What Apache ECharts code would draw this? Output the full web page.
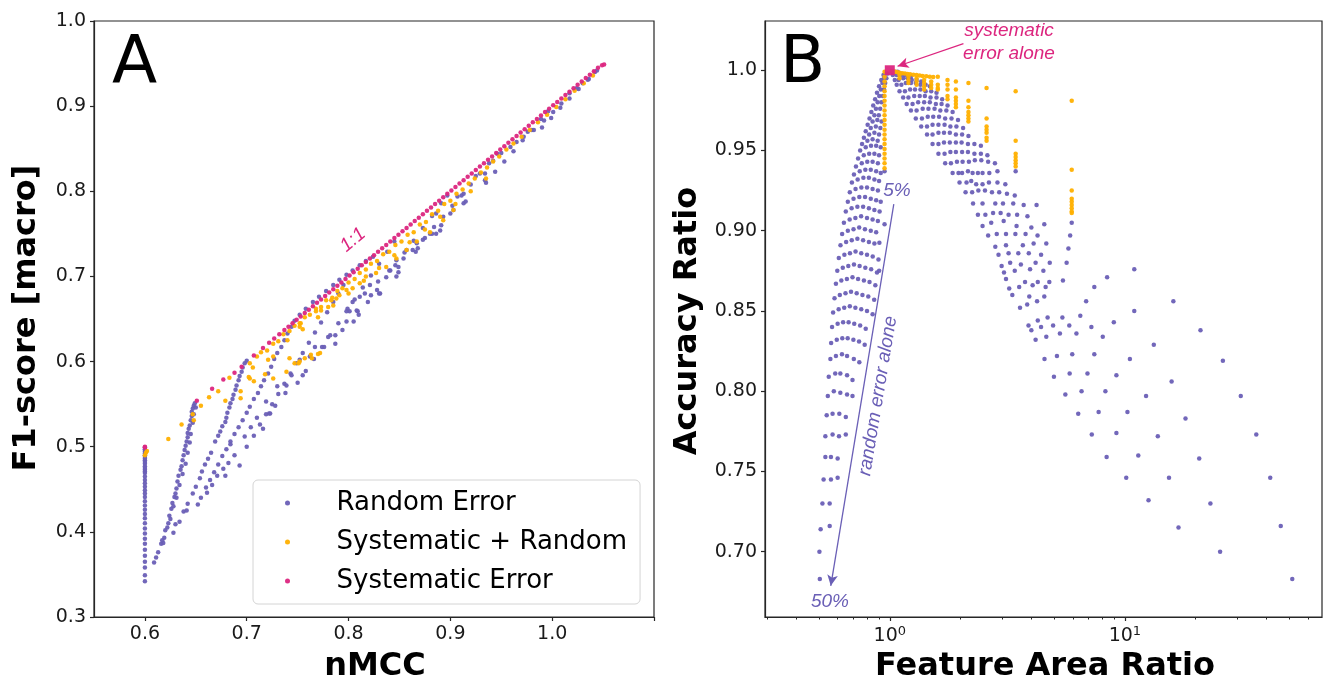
<!DOCTYPE html>
<html>
<head>
<meta charset="utf-8">
<title>F1-score vs nMCC and Accuracy vs Feature Area Ratio</title>
<script src="https://cdn.jsdelivr.net/npm/echarts@6.0.0/dist/echarts.min.js"></script>
<style>
html, body { margin: 0; padding: 0; background: #ffffff; }
#chart { width: 1324px; height: 690px; }
</style>
</head>
<body>
<div id="chart"></div>
<script>
// ---------- Panel A: macro F1-score against nMCC ----------
const aRandom = [
  // x = 0.6 column
  [0.600,0.342],[0.600,0.349],[0.600,0.358],[0.600,0.365],[0.600,0.372],[0.600,0.379],[0.600,0.386],[0.600,0.392],
  [0.600,0.398],[0.600,0.404],[0.600,0.410],[0.600,0.416],[0.600,0.421],[0.600,0.426],[0.600,0.431],[0.600,0.436],
  [0.600,0.441],[0.600,0.445],[0.600,0.449],[0.600,0.453],[0.600,0.457],[0.600,0.461],[0.600,0.465],[0.600,0.469],
  [0.600,0.473],[0.600,0.477],[0.600,0.480],[0.600,0.484],[0.600,0.488],[0.600,0.492],[0.600,0.496],[0.600,0.499],
  [0.600,0.471],[0.600,0.475],[0.600,0.482],[0.600,0.486],[0.600,0.490],[0.600,0.494],[0.600,0.497],
  // streak ending at 0.65
  [0.609,0.364],[0.613,0.376],[0.616,0.386],[0.618,0.387],[0.619,0.393],[0.620,0.402],[0.623,0.410],[0.624,0.419],
  [0.626,0.427],[0.627,0.434],[0.629,0.441],[0.630,0.445],[0.631,0.451],[0.632,0.459],[0.633,0.466],[0.635,0.473],
  [0.636,0.477],[0.637,0.484],[0.638,0.490],[0.639,0.496],[0.640,0.501],[0.641,0.506],[0.642,0.511],[0.642,0.516],
  [0.643,0.521],[0.644,0.525],[0.645,0.531],[0.646,0.536],[0.646,0.541],[0.647,0.545],[0.648,0.548],[0.649,0.551],
  [0.611,0.370],[0.617,0.390],[0.622,0.405],[0.625,0.415],[0.628,0.430],[0.631,0.440],[0.634,0.455],[0.637,0.468],
  [0.640,0.480],[0.642,0.493],[0.644,0.505],[0.645,0.515],[0.647,0.528],[0.648,0.538],[0.650,0.546],
  // streak ending at 0.70
  [0.628,0.399],[0.630,0.409],[0.634,0.412],[0.638,0.424],[0.641,0.425],[0.642,0.433],[0.647,0.445],[0.650,0.453],
  [0.654,0.463],[0.656,0.471],[0.659,0.479],[0.662,0.486],[0.665,0.493],[0.669,0.506],[0.672,0.513],[0.674,0.518],
  [0.676,0.524],[0.679,0.529],[0.680,0.534],[0.681,0.540],[0.683,0.546],[0.684,0.551],[0.686,0.556],[0.687,0.561],
  [0.689,0.567],[0.690,0.572],[0.692,0.578],[0.693,0.583],[0.695,0.588],[0.696,0.593],[0.698,0.598],[0.700,0.601],
  // streak ending at 0.75
  [0.655,0.440],[0.660,0.452],[0.664,0.461],[0.668,0.470],[0.672,0.479],[0.676,0.489],[0.680,0.497],[0.684,0.506],
  [0.688,0.515],[0.692,0.523],[0.696,0.531],[0.700,0.540],[0.703,0.547],[0.707,0.556],[0.711,0.563],[0.714,0.571],
  [0.717,0.578],[0.721,0.586],[0.724,0.594],[0.727,0.603],[0.730,0.610],[0.734,0.617],[0.737,0.625],[0.740,0.633],
  [0.744,0.641],[0.747,0.648],[0.752,0.655],[0.758,0.662],[0.765,0.670],[0.771,0.676],[0.778,0.683],[0.785,0.690],
  [0.791,0.696],[0.798,0.702],[0.804,0.707],[0.811,0.713],[0.817,0.718],[0.824,0.723],
  // streak ending at 0.80
  [0.700,0.500],[0.707,0.513],[0.713,0.526],[0.719,0.538],[0.725,0.550],[0.731,0.562],[0.737,0.574],[0.743,0.586],
  [0.749,0.598],[0.755,0.610],[0.761,0.622],[0.767,0.634],[0.773,0.646],[0.779,0.658],[0.785,0.670],[0.790,0.680],
  [0.795,0.690],
  // lower spread between 0.66 and 0.74
  [0.652,0.432],[0.661,0.446],[0.666,0.455],[0.671,0.466],[0.677,0.474],[0.682,0.481],[0.688,0.490],[0.693,0.478],
  [0.679,0.466],[0.684,0.503],[0.698,0.512],[0.704,0.523],[0.710,0.534],[0.716,0.521],[0.722,0.539],[0.728,0.548],
  // spread below the 1:1 line, x 0.72 to 0.91
  [0.719,0.553],[0.723,0.539],[0.730,0.571],[0.738,0.563],[0.739,0.572],[0.744,0.584],[0.755,0.584],[0.752,0.602],
  [0.762,0.606],[0.767,0.617],[0.776,0.617],[0.780,0.629],[0.787,0.621],[0.787,0.631],[0.794,0.637],[0.798,0.647],
  [0.801,0.659],[0.808,0.660],[0.804,0.670],[0.811,0.676],[0.816,0.680],[0.821,0.690],[0.831,0.680],[0.829,0.694],
  [0.840,0.707],[0.849,0.705],[0.847,0.719],[0.854,0.721],[0.857,0.731],[0.863,0.731],[0.867,0.739],[0.873,0.743],
  [0.880,0.750],[0.886,0.750],[0.891,0.760],[0.900,0.774],[0.903,0.778],[0.913,0.786],
  [0.805,0.647],[0.809,0.659],[0.799,0.662],[0.822,0.678],[0.830,0.680],[0.841,0.707],[0.847,0.700],[0.849,0.711],
  [0.866,0.729],[0.868,0.733],[0.882,0.750],[0.886,0.774],[0.890,0.754],[0.907,0.794],[0.913,0.797],[0.915,0.788],
  [0.934,0.813],[0.934,0.821],
  // streaks ending at 0.85 to 1.05
  [0.750,0.575],[0.758,0.589],[0.766,0.603],[0.774,0.617],[0.782,0.631],[0.790,0.645],[0.798,0.659],[0.806,0.673],
  [0.814,0.687],[0.822,0.701],[0.830,0.715],[0.838,0.729],[0.845,0.741],
  [0.810,0.655],[0.819,0.670],[0.828,0.684],[0.837,0.699],[0.846,0.713],[0.855,0.728],[0.864,0.742],[0.873,0.757],
  [0.882,0.771],[0.891,0.786],[0.897,0.795],
  [0.875,0.745],[0.884,0.758],[0.893,0.770],[0.902,0.783],[0.911,0.795],[0.920,0.808],[0.929,0.821],[0.938,0.833],
  [0.946,0.844],
  [0.935,0.810],[0.944,0.823],[0.953,0.835],[0.962,0.847],[0.971,0.860],[0.980,0.872],[0.989,0.885],[0.996,0.894],
  [0.990,0.875],[0.999,0.886],[1.008,0.898],[1.017,0.909],[1.026,0.920],[1.035,0.931],[1.044,0.942],
  // close under the 1:1 line
  [0.959,0.852],[0.965,0.858],[0.972,0.864],[0.976,0.870],[0.982,0.872],[0.992,0.883],[1.001,0.893],[1.009,0.903],
  [1.017,0.915],[1.024,0.921],[1.030,0.927],[1.036,0.932],[1.042,0.940],[0.925,0.818],[0.942,0.836],[0.950,0.845]
];
const aMixed = [
  [0.600,0.490],[0.601,0.493],[0.602,0.495],[0.623,0.509],[0.636,0.526],[0.647,0.538],[0.648,0.531],[0.655,0.548],
  [0.663,0.558],[0.672,0.565],[0.679,0.554],[0.683,0.581],[0.694,0.565],[0.694,0.557],[0.702,0.582],[0.706,0.593],
  [0.707,0.577],[0.718,0.585],[0.726,0.580],[0.739,0.588],[0.751,0.598],[0.764,0.604],[0.772,0.610],
  [0.703,0.580],[0.721,0.602],[0.726,0.606],[0.742,0.604],[0.747,0.598],[0.752,0.600],[0.757,0.604],[0.763,0.608],
  [0.770,0.609],[0.752,0.641],[0.753,0.645],[0.768,0.659],[0.773,0.660],[0.780,0.664],[0.783,0.672],[0.788,0.674],
  [0.791,0.678],[0.798,0.684],[0.804,0.686],[0.811,0.692],[0.817,0.700],[0.827,0.704],[0.837,0.711],[0.847,0.721],
  [0.857,0.731],[0.867,0.741],[0.880,0.752],[0.893,0.766],[0.903,0.778],
  [0.703,0.598],[0.710,0.606],[0.714,0.611],[0.720,0.613],[0.726,0.621],[0.731,0.624],[0.736,0.632],[0.742,0.636],
  [0.747,0.642],[0.752,0.645],[0.757,0.652],[0.762,0.655],[0.768,0.662],[0.773,0.664],[0.778,0.672],[0.784,0.675],
  [0.789,0.683],[0.794,0.686],[0.800,0.693],[0.806,0.697],[0.811,0.704],[0.817,0.708],[0.822,0.715],[0.828,0.718],
  [0.834,0.726],[0.840,0.729],[0.846,0.737],[0.852,0.741],[0.858,0.749],[0.864,0.752],[0.870,0.761],[0.876,0.764],
  [0.882,0.773],[0.888,0.777],[0.894,0.785],[0.900,0.789],[0.906,0.797],[0.912,0.802],[0.918,0.809],[0.924,0.815],
  [0.930,0.822],[0.936,0.828],[0.942,0.835],[0.948,0.841],[0.955,0.849],[0.962,0.856],[0.970,0.864],[0.978,0.872],
  [0.986,0.881],[0.995,0.890],[1.004,0.899],[1.013,0.908],[1.022,0.918],[1.031,0.927],[1.040,0.936],
  [0.740,0.625],[0.755,0.638],[0.770,0.652],[0.785,0.666],[0.800,0.680],[0.815,0.695],[0.830,0.710],[0.845,0.725],
  [0.860,0.740],[0.875,0.755],[0.890,0.770],[0.905,0.785],[0.920,0.800],[0.935,0.815]
];
const aSystematic = [
  [0.600,0.500],[0.600,0.499],[0.651,0.554],[0.666,0.568],[0.677,0.579],[0.688,0.587],[0.695,0.594],[0.707,0.607],
  [0.716,0.616],[0.722,0.622],[0.727,0.627],[0.732,0.632],[0.737,0.637],[0.741,0.641],[0.745,0.645],[0.749,0.649],
  [0.753,0.653],[0.757,0.657],[0.761,0.661],[0.765,0.665],[0.769,0.669],[0.773,0.673],[0.777,0.677],[0.781,0.681],
  [0.785,0.685],[0.789,0.689],[0.793,0.693],[0.797,0.697],[0.801,0.701],[0.805,0.705],[0.809,0.709],[0.813,0.713],
  [0.817,0.717],[0.821,0.721],[0.825,0.725],[0.829,0.729],[0.833,0.733],[0.837,0.737],[0.841,0.741],[0.845,0.745],
  [0.849,0.749],[0.853,0.753],[0.857,0.757],[0.861,0.761],[0.865,0.765],[0.869,0.769],[0.873,0.773],[0.877,0.777],
  [0.881,0.781],[0.885,0.785],[0.889,0.789],[0.893,0.793],[0.897,0.797],[0.901,0.801],[0.905,0.805],[0.909,0.809],
  [0.913,0.813],[0.917,0.817],[0.921,0.821],[0.925,0.825],[0.929,0.829],[0.933,0.833],[0.937,0.837],[0.941,0.841],
  [0.945,0.845],[0.949,0.849],[0.953,0.853],[0.957,0.857],[0.961,0.861],[0.965,0.865],[0.969,0.869],[0.973,0.873],
  [0.977,0.877],[0.981,0.881],[0.985,0.885],[0.989,0.889],[0.993,0.893],[0.997,0.897],[1.001,0.901],[1.005,0.905],
  [1.009,0.909],[1.013,0.913],[1.017,0.917],[1.021,0.921],[1.025,0.925],[1.029,0.929],[1.033,0.933],[1.037,0.937],
  [1.041,0.941],[1.045,0.945],[1.049,0.948],[1.051,0.949]
];

// ---------- Panel B: accuracy ratio against feature area ratio ----------
// outer descending arcs (ratio > 1)
const bRandomRight = [
  [51.5,0.683],[46.0,0.716],[41.5,0.746],[36.2,0.773],[31.1,0.797],[26.1,0.819],[20.96,0.838],[16.07,0.856],[10.96,0.876],
  [25.4,0.700],[23.1,0.730],[20.7,0.758],[18.1,0.783],[15.8,0.806],[16.9,0.715],[15.4,0.746],[13.8,0.772],[12.3,0.797],
  [10.5,0.820],[12.6,0.732],[11.4,0.760],[10.25,0.787],[9.20,0.810],[10.13,0.746],[9.20,0.774],[8.26,0.800],[7.41,0.823],
  [8.36,0.759],[7.73,0.787],[6.93,0.811],[5.97,0.823],[7.23,0.773],[6.54,0.800],[5.82,0.811],[5.14,0.822],[6.33,0.786],
  [5.58,0.798],[4.99,0.809],[4.55,0.820],
  [4.17,0.832],[4.63,0.834],[5.29,0.836],[6.22,0.836],[8.05,0.834],[13.27,0.829],
  [4.00,0.838],[4.40,0.840],[4.95,0.841],[5.80,0.841],[7.20,0.840],
  [3.89,0.841],[4.26,0.844],[4.69,0.846],[5.42,0.846],[6.46,0.847],[8.97,0.843],[10.96,0.850],
  [3.58,0.852],[3.84,0.854],[4.23,0.856],[6.84,0.856],
  [3.32,0.860],[3.92,0.859],[4.54,0.859],
  [3.22,0.864],[3.55,0.865],[4.05,0.866],[4.60,0.865],[7.41,0.865],
  [3.12,0.870],[3.76,0.868],[4.26,0.868],[4.77,0.868],[5.45,0.869],[8.40,0.871],
  [3.06,0.874],[3.40,0.875],[3.95,0.876],[4.50,0.875],
  [2.99,0.878],[3.25,0.880],[3.61,0.879],[4.17,0.880],[4.79,0.880],[5.65,0.880],
  [2.90,0.885],[3.20,0.886],[3.52,0.886],[3.90,0.886],[4.40,0.885],
  [2.81,0.890],[3.12,0.891],[3.68,0.891],[4.09,0.892],[4.63,0.892],[5.75,0.889],
  [2.62,0.897],[2.85,0.898],[3.12,0.898],[3.42,0.898],[3.78,0.898],[4.25,0.897],[5.85,0.897],
  [2.48,0.903],[2.70,0.905],[3.05,0.906],[3.46,0.903],[4.00,0.902],[4.54,0.904],[5.94,0.905],
  [2.37,0.910],[2.55,0.910],[2.75,0.911],[2.96,0.911],[3.20,0.910],[3.48,0.910],[3.85,0.909],
  [2.26,0.917],[2.48,0.917],[2.81,0.917],[3.03,0.917],[3.35,0.917],[3.71,0.916],[4.21,0.916],
  [2.10,0.924],[2.24,0.924],[2.38,0.925],[2.54,0.925],[2.72,0.924],[2.92,0.924],[3.15,0.923],[3.40,0.922],
  [1.98,0.930],[2.12,0.930],[2.22,0.931],[2.33,0.929],[2.48,0.929],[2.64,0.930],[2.87,0.930],[3.10,0.929],
  [1.85,0.936],[1.96,0.936],[2.03,0.936],[2.15,0.937],[2.25,0.936],[2.37,0.936],[2.48,0.936],[2.65,0.936],[2.87,0.937],[3.43,0.937],
  [1.72,0.942],[1.82,0.942],[1.93,0.943],[2.04,0.943],[2.17,0.943],[2.30,0.944],[2.45,0.944],[2.62,0.943],[2.80,0.942],
  [1.61,0.948],[1.71,0.948],[1.81,0.949],[1.91,0.949],[2.03,0.949],[2.15,0.949],[2.29,0.948],[2.44,0.948],[2.60,0.947],
  [1.52,0.954],[1.61,0.954],[1.70,0.955],[1.80,0.955],[1.91,0.955],[2.02,0.955],[2.15,0.954],[2.29,0.954],[2.44,0.953],
  [1.44,0.960],[1.52,0.960],[1.61,0.961],[1.70,0.961],[1.80,0.961],[1.91,0.960],[2.03,0.960],[2.16,0.959],
  [1.36,0.965],[1.44,0.965],[1.52,0.966],[1.61,0.966],[1.71,0.966],[1.81,0.965],[1.92,0.965],[2.05,0.964],
  [1.29,0.970],[1.37,0.970],[1.45,0.971],[1.53,0.971],[1.62,0.971],[1.72,0.970],[1.83,0.970],[1.95,0.969],
  [1.23,0.975],[1.30,0.975],[1.38,0.976],[1.46,0.976],[1.55,0.976],[1.64,0.975],[1.74,0.975],[1.85,0.974],
  [1.18,0.979],[1.25,0.979],[1.32,0.980],[1.40,0.980],[1.48,0.980],[1.57,0.979],[1.66,0.979],[1.76,0.978],
  [1.14,0.983],[1.20,0.983],[1.27,0.984],[1.34,0.984],[1.41,0.984],[1.49,0.983],[1.58,0.983],[1.67,0.982],
  [1.10,0.987],[1.16,0.987],[1.22,0.988],[1.28,0.988],[1.35,0.988],[1.42,0.987],[1.50,0.987],[1.58,0.986],
  [1.07,0.991],[1.12,0.991],[1.17,0.992],[1.23,0.992],[1.29,0.992],[1.35,0.991],[1.42,0.991],[1.48,0.990],
  [1.05,0.994],[1.09,0.994],[1.14,0.995],[1.19,0.995],[1.24,0.994],[1.30,0.994],[1.36,0.993],
  [1.03,0.997],[1.07,0.997],[1.11,0.997],[1.15,0.997],[1.19,0.996],[1.23,0.996],
  [1.02,0.999],[1.05,0.999],[1.08,0.999],[1.11,0.998]
];
// arch of ratios below 1, plus the random-only points along the arrow
const bRandomLeft = [
  [0.504,0.683],[0.502,0.700],[0.508,0.714],[0.555,0.716],[0.517,0.730],[0.555,0.730],[0.523,0.745],[0.562,0.745],
  [0.600,0.746],[0.532,0.759],[0.562,0.759],[0.600,0.758],[0.532,0.772],[0.571,0.773],[0.608,0.772],[0.650,0.773],
  [0.539,0.785],[0.571,0.786],[0.610,0.786],[0.650,0.784],[0.545,0.797],[0.578,0.800],[0.616,0.799],[0.658,0.798],
  [0.694,0.797],[0.550,0.809],[0.586,0.811],[0.616,0.811],[0.658,0.810],[0.694,0.807],[0.559,0.820],[0.590,0.822],
  [0.626,0.823],[0.658,0.822],[0.703,0.820],[0.742,0.818],
  [0.563,0.830],[0.595,0.832],[0.628,0.833],[0.662,0.833],[0.700,0.832],[0.740,0.831],[0.782,0.829],
  [0.568,0.840],[0.600,0.842],[0.633,0.843],[0.668,0.843],[0.706,0.842],[0.748,0.841],[0.790,0.839],
  [0.574,0.849],[0.606,0.851],[0.640,0.852],[0.676,0.853],[0.714,0.852],[0.756,0.851],[0.800,0.850],[0.845,0.848],
  [0.582,0.858],[0.613,0.860],[0.648,0.861],[0.684,0.862],[0.723,0.861],[0.765,0.860],[0.810,0.859],[0.858,0.857],
  [0.590,0.867],[0.622,0.869],[0.657,0.870],[0.694,0.871],[0.733,0.870],[0.776,0.869],[0.820,0.868],[0.868,0.866],
  [0.598,0.875],[0.631,0.877],[0.666,0.878],[0.704,0.879],[0.744,0.878],[0.787,0.877],[0.833,0.876],[0.882,0.874],
  [0.607,0.883],[0.641,0.885],[0.677,0.886],[0.715,0.887],[0.756,0.886],[0.800,0.885],[0.846,0.884],[0.895,0.882],
  [0.617,0.891],[0.652,0.893],[0.689,0.894],[0.728,0.895],[0.770,0.894],[0.815,0.893],[0.860,0.892],[0.903,0.8925],
  [0.627,0.898],[0.663,0.900],[0.701,0.901],[0.741,0.902],[0.784,0.901],[0.830,0.900],[0.875,0.899],
  [0.638,0.905],[0.675,0.907],[0.714,0.908],[0.755,0.909],[0.800,0.908],[0.845,0.907],[0.890,0.906],
  [0.650,0.912],[0.688,0.914],[0.728,0.915],[0.770,0.915],[0.815,0.914],[0.860,0.913],[0.905,0.912],
  [0.663,0.918],[0.701,0.920],[0.742,0.921],[0.785,0.921],[0.830,0.920],[0.875,0.919],[0.915,0.918],
  [0.676,0.924],[0.715,0.926],[0.757,0.927],[0.800,0.927],[0.845,0.926],[0.890,0.925],
  [0.690,0.930],[0.730,0.932],[0.772,0.933],[0.815,0.933],[0.860,0.932],[0.900,0.931],
  [0.704,0.935],[0.745,0.937],[0.787,0.938],[0.830,0.938],[0.875,0.937],[0.915,0.936],
  [0.718,0.940],[0.760,0.942],[0.802,0.943],[0.845,0.943],[0.890,0.942],
  [0.733,0.945],[0.775,0.947],[0.817,0.948],[0.860,0.948],[0.900,0.947],
  [0.748,0.950],[0.790,0.952],[0.832,0.953],[0.875,0.953],[0.915,0.952],
  [0.762,0.954],[0.803,0.956],[0.845,0.957],[0.888,0.956],
  [0.776,0.958],[0.817,0.960],[0.860,0.961],[0.900,0.960],
  [0.790,0.962],[0.830,0.964],[0.872,0.965],[0.912,0.964],
  [0.805,0.966],[0.845,0.968],[0.885,0.969],[0.922,0.968],
  [0.820,0.970],[0.860,0.972],[0.898,0.972],
  [0.835,0.974],[0.873,0.976],[0.910,0.976],
  [0.850,0.978],[0.888,0.980],[0.922,0.980],
  [0.866,0.982],[0.902,0.984],[0.934,0.984],
  [0.882,0.986],[0.916,0.988],[0.945,0.988],
  [0.900,0.990],[0.930,0.992],[0.956,0.992],
  [0.920,0.994],[0.945,0.995],[0.967,0.995],
  [0.940,0.997],[0.960,0.998],[0.978,0.998],
  [0.950,0.937],[0.950,0.904],[0.901,0.875]
];
const bMixed = [
  [0.950,0.999],[0.950,0.996],[0.950,0.993],[0.950,0.990],[0.950,0.987],[0.950,0.984],[0.950,0.981],[0.950,0.978],
  [0.950,0.975],[0.950,0.972],[0.950,0.969],[0.950,0.966],[0.950,0.963],[0.950,0.960],[0.950,0.957],[0.950,0.954],
  [0.950,0.951],[0.950,0.948],[0.950,0.945],[0.950,0.942],[0.950,0.939],
  [1.02,0.9995],[1.04,0.9993],[1.06,0.999],[1.08,0.9988],[1.10,0.9985],[1.13,0.9982],[1.16,0.998],[1.19,0.9977],
  [1.22,0.9975],[1.26,0.9972],[1.30,0.997],[1.34,0.9967],[1.38,0.9965],[1.43,0.9962],[1.48,0.996],[1.53,0.9958],
  [1.10,0.997],[1.10,0.995],[1.20,0.996],[1.20,0.994],[1.20,0.992],[1.30,0.995],[1.30,0.993],[1.30,0.991],
  [1.40,0.994],[1.40,0.992],[1.40,0.990],[1.40,0.988],[1.50,0.993],[1.50,0.991],[1.50,0.989],
  [1.60,0.996],[1.60,0.991],[1.60,0.989],[1.60,0.988],[1.76,0.994],[1.76,0.991],[1.76,0.988],[1.76,0.984],[1.76,0.982],
  [1.91,0.993],[1.91,0.988],[1.91,0.983],[1.91,0.981],[1.91,0.979],[1.91,0.977],[2.16,0.992],[2.16,0.981],[2.16,0.977],
  [2.16,0.974],[2.16,0.972],[2.16,0.970],[2.16,0.968],[2.58,0.989],[2.58,0.970],[2.58,0.965],[2.58,0.963],[2.58,0.961],
  [2.58,0.958],[2.58,0.956],[3.43,0.987],[3.43,0.956],[3.43,0.948],[3.43,0.946],[3.43,0.944],[3.43,0.942],[3.43,0.940],
  [5.94,0.981],[5.94,0.938],[5.94,0.925],[5.94,0.920],[5.94,0.918],[5.94,0.916],[5.94,0.914],[5.94,0.912],[5.94,0.911]
];
const bSystematic = [[1.0, 1.0]];

// ---------- axis ticks ----------
const aXTicks = [0.6, 0.7, 0.8, 0.9, 1.0, 1.1];
const aXLabels = [0.6, 0.7, 0.8, 0.9, 1.0];
const aYTicks = [0.3, 0.4, 0.5, 0.6, 0.7, 0.8, 0.9, 1.0];
const bXTicks = [1, 10];
const bXMinorTicks = [0.3, 0.4, 0.5, 0.6, 0.7, 0.8, 0.9, 2, 3, 4, 5, 6, 7, 8, 9, 20, 30, 40, 50, 60];
const bYTicks = [0.70, 0.75, 0.80, 0.85, 0.90, 0.95, 1.0];
const seriesNames = ['Random Error', 'Systematic + Random', 'Systematic Error'];

const FONT = 'DejaVu Sans';
const INK = '#1a1a1a';
const SPINE = '#262626';
const C_RANDOM = '#6a5fb6';
const C_MIXED = '#ffb000';
const C_SYS = '#dc267f';

function axisBase(gridIndex, type, min, max, ticks, labels, fmt) {
  return {
    type: type, gridIndex: gridIndex, min: min, max: max,
    axisLine: { show: true, onZero: false, lineStyle: { color: SPINE, width: 1.2 } },
    axisTick: { show: true, inside: false, length: 4, customValues: ticks, lineStyle: { color: SPINE, width: 1.2 } },
    axisLabel: { show: true, customValues: labels, formatter: fmt, fontFamily: FONT, fontSize: 19, color: INK, margin: 8 },
    splitLine: { show: false },
    minorTick: { show: false }
  };
}

const supDigits = v => (v === 1 ? '10{s|0}' : '10{s|1}');
const bXAxis = axisBase(1, 'log', 0.2946, 68.9, bXTicks, bXTicks, supDigits);
bXAxis.logBase = 10;
bXAxis.axisLabel.rich = { s: { fontFamily: FONT, fontSize: 13, color: INK, verticalAlign: 'top', padding: [0, 0, 10, 0] } };
const bXMinorAxis = {
  type: 'log', logBase: 10, gridIndex: 1, min: 0.2946, max: 68.9, position: 'bottom',
  axisLine: { show: false }, axisLabel: { show: false }, splitLine: { show: false },
  axisTick: { show: true, length: 2.5, customValues: bXMinorTicks, lineStyle: { color: SPINE, width: 1 } }
};

function scatter(name, data, xi, color, size, z, symbol) {
  return {
    name: name, type: 'scatter', xAxisIndex: xi, yAxisIndex: xi === 2 ? 1 : xi,
    data: data, symbol: symbol || 'circle', symbolSize: size, z: z,
    itemStyle: { color: color, opacity: 0.95 },
    emphasis: { disabled: true }, animation: false, silent: true
  };
}

const bRL = scatter(seriesNames[0], bRandomLeft, 2, C_RANDOM, 4.5, 2);
const bRR = scatter(seriesNames[0], bRandomRight, 2, C_RANDOM, 4.5, 2);
const bM = scatter(seriesNames[1], bMixed, 2, C_MIXED, 4.5, 3);
const bS = scatter(seriesNames[2], bSystematic, 2, C_SYS, 10, 4, 'rect');
bS.markLine = {
  silent: true, animation: false, symbol: ['none', 'arrow'], symbolSize: [8, 11],
  label: { show: false }, lineStyle: { color: C_SYS, width: 1.3, type: 'solid' },
  data: [[{ coord: [2.057, 1.0166] }, { coord: [1.079, 1.0025] }]]
};
bRL.markLine = {
  silent: true, animation: false, symbol: ['none', 'arrow'], symbolSize: [8, 11],
  label: { show: false }, lineStyle: { color: C_RANDOM, width: 1.3, type: 'solid' },
  data: [[{ coord: [1.04, 0.9166] }, { coord: [0.561, 0.6787] }]]
};

const option = {
  backgroundColor: '#ffffff',
  animation: false,
  grid: [
    { left: 94, top: 21, width: 560, height: 596, show: true, borderColor: SPINE, borderWidth: 1.2 },
    { left: 765, top: 21, width: 557, height: 596, show: true, borderColor: SPINE, borderWidth: 1.2 }
  ],
  xAxis: [
    axisBase(0, 'value', 0.55, 1.1, aXTicks, aXLabels, v => v.toFixed(1)),
    bXAxis,
    bXMinorAxis
  ],
  yAxis: [
    axisBase(0, 'value', 0.3, 1.0, aYTicks, aYTicks, v => v.toFixed(1)),
    axisBase(1, 'value', 0.6593, 1.0307, bYTicks, bYTicks, v => (v >= 0.999 ? '1.0' : v.toFixed(2)))
  ],
  legend: {
    data: seriesNames, orient: 'vertical', left: 253, top: 480,
    icon: 'circle', itemWidth: 10, itemHeight: 5, itemGap: 9,
    padding: [8, 13, 8, 32],
    backgroundColor: 'rgba(255,255,255,0.85)', borderColor: '#d4d4d4', borderWidth: 1, borderRadius: 5,
    selectedMode: false,
    textStyle: { fontFamily: FONT, fontSize: 26, color: '#000', lineHeight: 30, padding: [0, 0, 0, 39] }
  },
  series: [
    scatter(seriesNames[0], aRandom, 0, C_RANDOM, 4.5, 2),
    scatter(seriesNames[1], aMixed, 0, C_MIXED, 4.5, 3),
    scatter(seriesNames[2], aSystematic, 0, C_SYS, 4.5, 4),
    bRL, bRR, bM, bS
  ],
  graphic: [
    { type: 'text', x: 112, y: 65, style: { text: 'A', fontFamily: FONT, fontSize: 66, fill: '#000', align: 'left', verticalAlign: 'middle' } },
    { type: 'text', x: 780, y: 65, style: { text: 'B', fontFamily: FONT, fontSize: 66, fill: '#000', align: 'left', verticalAlign: 'middle' } },
    { type: 'text', x: 27, y: 318, rotation: Math.PI / 2, style: { text: 'F1-score [macro]', fontFamily: FONT, fontWeight: 'bold', fontSize: 32, fill: '#000', align: 'center', verticalAlign: 'middle' } },
    { type: 'text', x: 375, y: 667, style: { text: 'nMCC', fontFamily: FONT, fontWeight: 'bold', fontSize: 32, fill: '#000', align: 'center', verticalAlign: 'middle' } },
    { type: 'text', x: 688, y: 321, rotation: Math.PI / 2, style: { text: 'Accuracy Ratio', fontFamily: FONT, fontWeight: 'bold', fontSize: 32, fill: '#000', align: 'center', verticalAlign: 'middle' } },
    { type: 'text', x: 1045, y: 667, style: { text: 'Feature Area Ratio', fontFamily: FONT, fontWeight: 'bold', fontSize: 32, fill: '#000', align: 'center', verticalAlign: 'middle' } },
    { type: 'text', x: 353, y: 240, rotation: 40 * Math.PI / 180, style: { text: '1:1', fontFamily: 'Liberation Sans', fontStyle: 'italic', fontSize: 19, fill: C_SYS, align: 'center', verticalAlign: 'middle' } },
    { type: 'text', x: 1009, y: 31, style: { text: 'systematic', fontFamily: 'Liberation Sans', fontStyle: 'italic', fontSize: 19, fill: C_SYS, align: 'center', verticalAlign: 'middle' } },
    { type: 'text', x: 1009, y: 54, style: { text: 'error alone', fontFamily: 'Liberation Sans', fontStyle: 'italic', fontSize: 19, fill: C_SYS, align: 'center', verticalAlign: 'middle' } },
    { type: 'text', x: 897, y: 191, style: { text: '5%', fontFamily: 'Liberation Sans', fontStyle: 'italic', fontSize: 19, fill: C_RANDOM, align: 'center', verticalAlign: 'middle' } },
    { type: 'text', x: 830, y: 602, style: { text: '50%', fontFamily: 'Liberation Sans', fontStyle: 'italic', fontSize: 19, fill: C_RANDOM, align: 'center', verticalAlign: 'middle' } },
    { type: 'text', x: 878, y: 396, rotation: 80.6 * Math.PI / 180, style: { text: 'random error alone', fontFamily: 'Liberation Sans', fontStyle: 'italic', fontSize: 19, fill: C_RANDOM, align: 'center', verticalAlign: 'middle' } }
  ]
};

const chart = echarts.init(document.getElementById('chart'), null, { renderer: 'canvas', width: 1324, height: 690 });
chart.setOption(option);
</script>
</body>
</html>
